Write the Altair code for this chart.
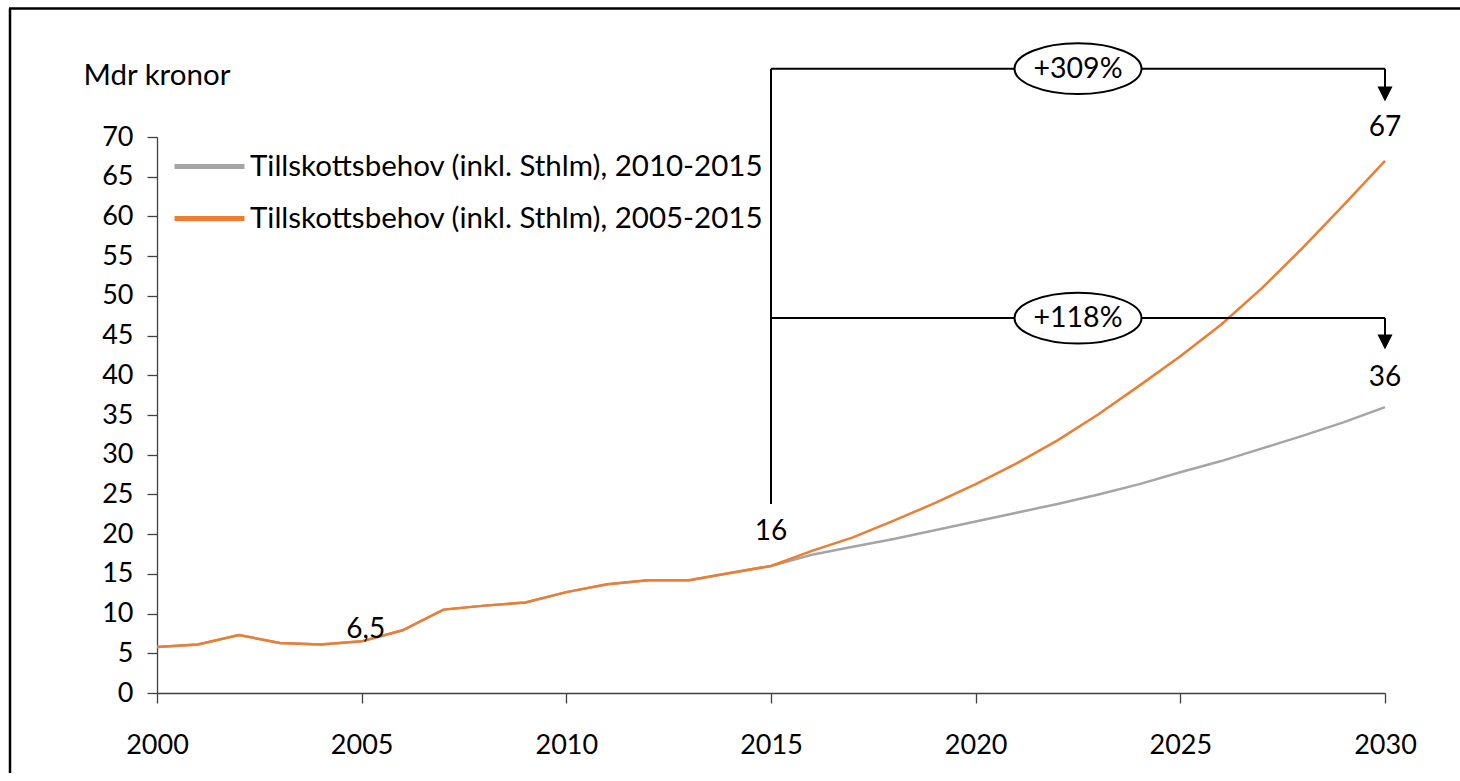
import altair as alt
import pandas as pd

# --- data -------------------------------------------------------------
years = list(range(2000, 2031))

# shared history 2000-2015 (Mdr kronor)
history = [5.8, 6.1, 7.3, 6.3, 6.1, 6.5, 7.9, 10.5, 11.0, 11.4,
           12.7, 13.7, 14.2, 14.2, 15.1, 16.0]
# projections 2016-2030
proj_2010_2015 = [17.4, 18.4, 19.4, 20.5, 21.6, 22.7, 23.8, 25.0,
                  26.3, 27.8, 29.2, 30.8, 32.4, 34.1, 36.0]
proj_2005_2015 = [17.9, 19.6, 21.7, 23.9, 26.3, 28.9, 31.8, 35.1,
                  38.7, 42.4, 46.4, 51.0, 56.1, 61.5, 67.0]

series_names = ["Tillskottsbehov (inkl. Sthlm), 2010-2015",
                "Tillskottsbehov (inkl. Sthlm), 2005-2015"]
series_colors = ["#A5A5A5", "#ED7D31"]

# value labels
label_years = [2005.1, 2015, 2030, 2030]
label_pos = [7.9, 20.3, 71.1, 39.7]
label_text = ["6,5", "16", "67", "36"]

# growth brackets
bracket_start, bracket_end = 2015, 2030
bracket_levels = [78.6, 47.2]
bracket_base = 23.8
arrow_tips = [75.4, 44.2]
badge_year = 2022.5
badge_text = ["+309%", "+118%"]

x_ticks = list(range(2000, 2031, 5))
y_ticks = list(range(0, 71, 5))

FONT = "Lato"
FS_NUM = 27
FS_TXT = 29.5

# --- frames -----------------------------------------------------------
grey_df = pd.DataFrame({"year": years, "value": history + proj_2010_2015,
                        "series": series_names[0]})
orange_df = pd.DataFrame({"year": years, "value": history + proj_2005_2015,
                          "series": series_names[1]})
labels_df = pd.DataFrame({"year": label_years, "value": label_pos, "text": label_text})

hlines_df = pd.DataFrame({"year": [bracket_start] * 2, "x2": [bracket_end] * 2,
                          "value": bracket_levels})
vlines_df = pd.DataFrame({"year": [bracket_start, bracket_end, bracket_end],
                          "value": [bracket_base, bracket_levels[0], bracket_levels[1]],
                          "y2": [bracket_levels[0], arrow_tips[0], arrow_tips[1]]})
tips_df = pd.DataFrame({"year": [bracket_end] * 2, "value": arrow_tips})
badges_df = pd.DataFrame({"year": [badge_year] * 2, "value": bracket_levels,
                          "text": badge_text})

xs = alt.Scale(domain=[2000, 2030], nice=False, zero=False)
ys = alt.Scale(domain=[0, 70], nice=False)

x_axis = alt.Axis(values=x_ticks, format="d", title=None, tickSize=10,
                  labelPadding=29, labelFlush=False, labelOverlap=False)
y_axis = alt.Axis(values=y_ticks, title="Mdr kronor", tickSize=10, labelPadding=14,
                  labelOverlap=False, labelFlush=False,
                  titleAngle=0, titleAlign="left", titleBaseline="middle",
                  titleX=-74, titleY=-62, titleFont=FONT, titleFontSize=FS_TXT,
                  titleFontWeight="normal", titleColor="black")

X = alt.X("year:Q", scale=xs, axis=x_axis)
Y = alt.Y("value:Q", scale=ys, axis=y_axis)

color = alt.Color("series:N",
                  scale=alt.Scale(domain=series_names, range=series_colors),
                  legend=alt.Legend(title=None, orient="none", legendX=15, legendY=-8,
                                    symbolType="stroke", symbolSize=4900,
                                    symbolStrokeWidth=5, labelFont=FONT,
                                    labelFontSize=FS_TXT, labelColor="black",
                                    labelOffset=3, rowPadding=0, padding=0,
                                    labelLimit=800))

grey_line = alt.Chart(grey_df).mark_line(strokeWidth=2.5).encode(x=X, y=Y, color=color)
orange_line = alt.Chart(orange_df).mark_line(strokeWidth=2.5).encode(x=X, y=Y, color=color)

value_labels = alt.Chart(labels_df).mark_text(
    font=FONT, fontSize=FS_NUM + 1, color="black", baseline="middle", align="center"
).encode(x=X, y=Y, text="text:N")

hlines = alt.Chart(hlines_df).mark_rule(color="black", strokeWidth=2).encode(
    x=X, x2="x2:Q", y=Y)
vlines = alt.Chart(vlines_df).mark_rule(color="black", strokeWidth=2).encode(
    x=X, y=Y, y2="y2:Q")
tips = alt.Chart(tips_df).mark_point(
    shape="M-1,-1L1,-1L0,1Z", size=225, filled=True, color="black", opacity=1
).encode(x=X, y=Y)

ellipse_path = "M-1,0A1,0.4,0,1,1,1,0A1,0.4,0,1,1,-1,0Z"
badges = alt.Chart(badges_df).mark_point(
    shape=ellipse_path, size=16129, filled=True, fill="white", stroke="black",
    strokeWidth=2, opacity=1, fillOpacity=1
).encode(x=X, y=Y)
badge_labels = alt.Chart(badges_df).mark_text(
    font=FONT, fontSize=FS_TXT - 1, color="black", baseline="middle", align="center"
).encode(x=X, y=Y, text="text:N")

# outer frame of the figure: left and top edges
one_row = alt.Data(values=[{"k": 1}])
frame_left = alt.Chart(one_row).mark_rule(color="black", strokeWidth=2.5).encode(
    x=alt.value(-147), y=alt.value(-128.5), y2=alt.value(700))
frame_top = alt.Chart(one_row).mark_rule(color="black", strokeWidth=2.5).encode(
    x=alt.value(-148), x2=alt.value(1303), y=alt.value(-128.5))

chart = alt.layer(
    grey_line, orange_line, frame_left, frame_top, hlines, vlines,
    tips, badges, badge_labels, value_labels
).properties(
    width=1228, height=556,
    padding={"left": 157, "top": 137, "right": 75, "bottom": 80},
    autosize=alt.AutoSizeParams(type="none"),
    background="white",
).configure_view(
    stroke=None
).configure_axis(
    grid=False, domainColor="#404040", tickColor="#404040", domainWidth=1.3,
    tickWidth=1.3, labelFont=FONT, labelFontSize=FS_NUM, labelColor="black",
    labelOverlap=False,
)

chart.save("out.html", embed_options={"renderer": "svg", "actions": False})
